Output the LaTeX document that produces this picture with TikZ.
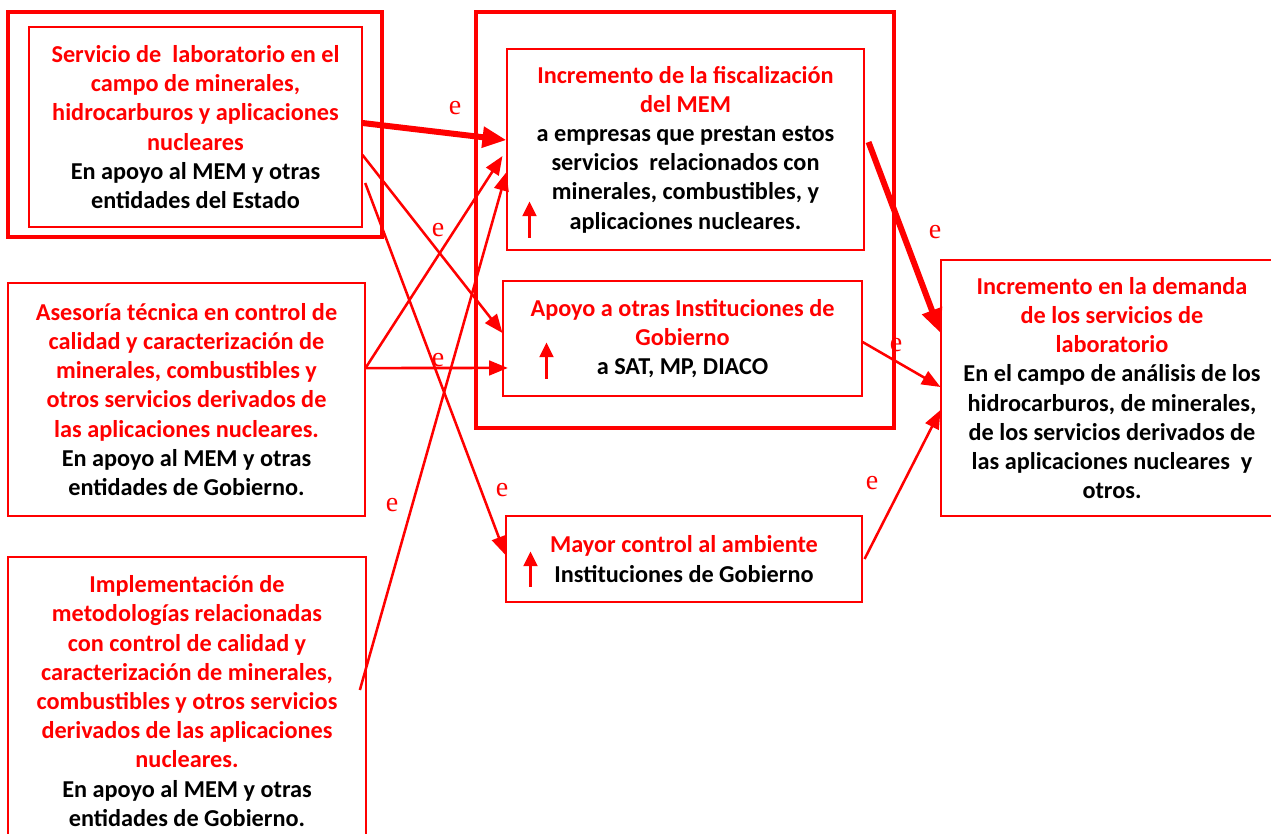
\documentclass[tikz,border=0pt]{standalone}
\usepackage{fontspec}
\setmainfont{Carlito}
\newfontfamily\eserif{Liberation Serif}
\usetikzlibrary{arrows.meta}
\tikzset{
  box/.style={draw=red, line width=0.8pt, align=center, inner sep=0pt,
    font=\fontsize{18.2}{21.9}\selectfont\bfseries},
  frame/.style={draw=red, line width=2.4pt},
  conn/.style={draw=red, line width=1.9pt, -{Triangle[length=14pt,width=11pt]}},
  thickconn/.style={draw=red, line width=4.5pt, -{Triangle[length=18pt,width=15pt]}},
  uparr/.style={draw=red, line width=1.6pt, -{Triangle[length=11pt,width=10.5pt]}},
  elab/.style={text=red, inner sep=0pt, font=\fontsize{21}{21}\selectfont\eserif},
}
\begin{document}
\begin{tikzpicture}[x=0.75pt,y=-0.75pt]
\useasboundingbox (0,0) rectangle (1271,834);
\clip (0,0) rectangle (1271,834);
% frames
\node[frame, minimum width=280.5pt, minimum height=168.75pt] (frameA) at (195,124.5) {};
\node[frame, minimum width=313.5pt, minimum height=312pt] (frameB) at (685,220) {};
% boxes
\node[box, minimum width=249.75pt, minimum height=150pt] (serv) at (195.5,127)
  {\color{red}Servicio de~ laboratorio en el\\\color{red}campo de minerales,\\\color{red}hidrocarburos y aplicaciones\\\color{red}nucleares\\En apoyo al MEM y otras\\entidades del Estado};
\node[box, minimum width=267.75pt, minimum height=174.75pt] (ases) at (186.5,399.5)
  {\color{red}Asesoría técnica en control de\\\color{red}calidad y caracterización de\\\color{red}minerales, combustibles y\\\color{red}otros servicios derivados de\\\color{red}las aplicaciones nucleares.\\En apoyo al MEM y otras\\entidades de Gobierno.};
\node[box, minimum width=268.5pt, minimum height=216pt] (impl) at (187,701)
  {\color{red}Implementación de\\\color{red}metodologías relacionadas\\\color{red}con control de calidad y\\\color{red}caracterización de minerales,\\\color{red}combustibles y otros servicios\\\color{red}derivados de las aplicaciones\\\color{red}nucleares.\\En apoyo al MEM y otras\\entidades de Gobierno.};
\node[box, minimum width=267.75pt, minimum height=150.75pt] (fisc) at (685.5,149.5)
  {\color{red}Incremento de la fiscalización\\\color{red}del MEM\\a empresas que prestan estos\\servicios~ relacionados con\\minerales, combustibles, y\\aplicaciones nucleares.};
\node[box, minimum width=269.25pt, minimum height=86.25pt] (apoyo) at (682.5,338.5)
  {\color{red}Apoyo a otras Instituciones de\\\color{red}Gobierno\\a SAT, MP, DIACO};
\node[box, minimum width=267pt, minimum height=64.5pt] (mayor) at (684,559)
  {\color{red}Mayor control al ambiente\\Instituciones de Gobierno};
\node[box, minimum width=256.5pt, minimum height=192pt] (dem) at (1112,388)
  {\color{red}Incremento en la demanda\\\color{red}de los servicios de\\\color{red}laboratorio\\En el campo de análisis de los\\hidrocarburos, de minerales,\\de los servicios derivados de\\las aplicaciones nucleares~ y\\otros.};
% small up arrows
\draw[uparr] ([xshift=17.25pt,yshift=9.75pt]fisc.south west) -- ++(0,-36);
\draw[uparr] ([xshift=33pt,yshift=13.5pt]apoyo.south west) -- ++(0,-36);
\draw[uparr] ([xshift=18.75pt,yshift=12pt]mayor.south west) -- ++(0,-35);
% connectors
\draw[thickconn] ([yshift=3pt]serv.east) -- ([yshift=7.1pt]fisc.west);
\draw[conn] ([yshift=-21pt]serv.east) -- ([yshift=4.1pt]apoyo.west);
\draw[conn] ([xshift=2pt,yshift=-42pt]serv.east) -- ([yshift=3pt]mayor.west);
\draw[conn] ([yshift=23.6pt]ases.east) -- ([xshift=-3pt,yshift=-4.9pt]fisc.west);
\draw[conn] ([yshift=23.6pt]ases.east) -- ([xshift=4pt,yshift=-22.1pt]apoyo.west);
\draw[conn] ([xshift=-5pt,yshift=8.25pt]impl.east) -- ([yshift=-16.9pt]fisc.west);
\draw[thickconn] ([xshift=3pt,yshift=5.6pt]fisc.east) -- ([yshift=41.25pt]dem.west);
\draw[conn] ([yshift=-2.6pt]apoyo.east) -- ([yshift=0.75pt]dem.west);
\draw[conn] ([xshift=1.5pt]mayor.east) -- ([yshift=-16.5pt]dem.west);
% e labels
\node[elab] (e1) at (455,108) {e};
\node[elab] (e2) at (438,230) {e};
\node[elab] (e3) at (438,360) {e};
\node[elab] (e4) at (935,232) {e};
\node[elab] (e5) at (896,345) {e};
\node[elab] (e6) at (502,490) {e};
\node[elab] (e7) at (392,505) {e};
\node[elab] (e8) at (872,483) {e};
\end{tikzpicture}
\end{document}
